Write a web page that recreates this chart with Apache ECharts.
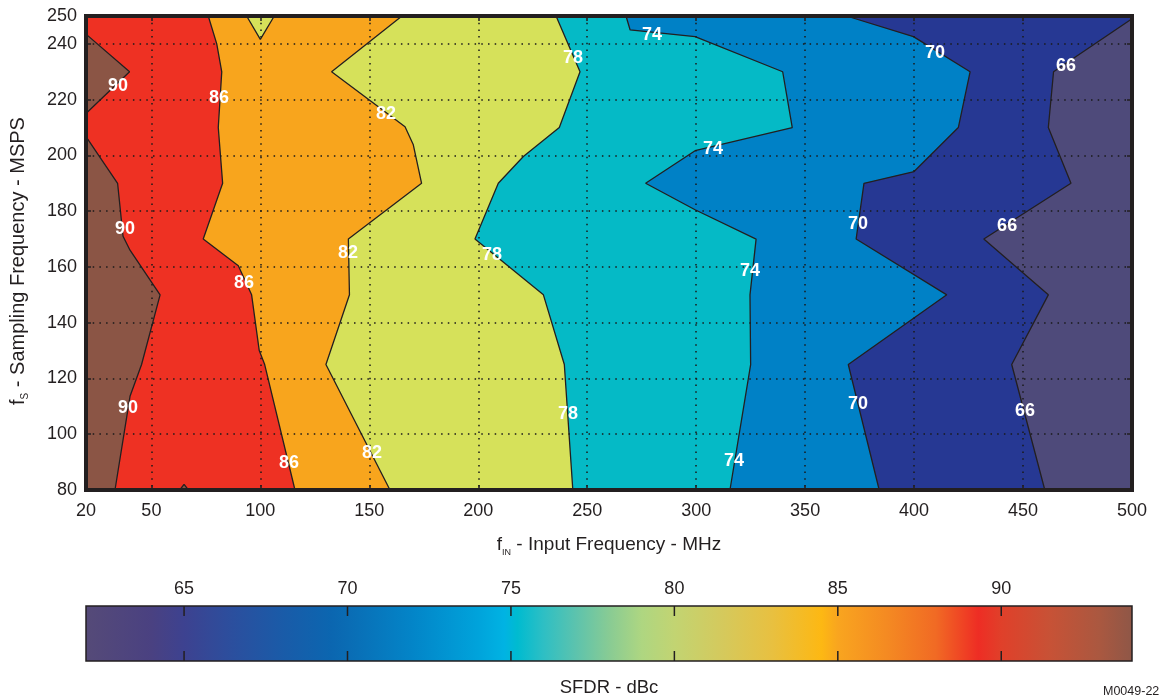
<!DOCTYPE html>
<html>
<head>
<meta charset="utf-8">
<script src="https://cdn.jsdelivr.net/npm/echarts@6/dist/echarts.min.js"></script>
<style>
  html, body { margin: 0; padding: 0; background: #fff; }
  #chart { width: 1165px; height: 698px; }
</style>
</head>
<body>
<div id="chart"></div>
<script>
// contour lines, [fIN MHz, fs MSPS], read top to bottom
var c66 = [[500, 249], [464, 230], [461.6, 210], [472, 190], [432, 170], [461.6, 150], [444.8, 125], [460, 80]];
var c70 = [[369, 250], [399.7, 242.6], [425.7, 230], [420.3, 210], [400, 194.2], [377, 190], [373.4, 170], [415, 150], [369.8, 125], [384, 80]];
var c74 = [[267.8, 250], [269.7, 245], [299.5, 242.6], [339.7, 230], [344.1, 210], [299.5, 201.7], [276.8, 190], [299.5, 180.5], [327.5, 170], [324.7, 150], [325, 125], [315.5, 80]];
var c78 = [[235.7, 250], [246.7, 230], [237.2, 210], [220.7, 199.6], [209.2, 190], [198.5, 170], [229.9, 150], [239.5, 125], [243.4, 80]];
var c82 = [[165, 250], [132.7, 230], [166.4, 210.3], [170.2, 203.8], [174, 190], [140.4, 170], [140.9, 150], [130.1, 125], [159.5, 80]];
var c86 = [[76.1, 250], [80, 240], [82.3, 230], [80.7, 210], [82.7, 190], [73.8, 170], [89.9, 160.4], [96, 150], [99.5, 130], [102, 125], [115.9, 80]];
var c82top = [[93.7, 250], [100, 241.6], [106.4, 250]];
var c90top = [[20, 243.5], [40, 230], [20, 215]];
var c90 = [[20, 206.7], [34.5, 190], [37, 171], [40.2, 166], [54, 150], [45.5, 125], [40.2, 113.6], [33.3, 80]];
var c90bump = [[63, 80], [65, 82], [67, 80]];

// contour labels [fIN, fs, text]
var contourLabels = [
  [34.7, 224.9, '90'], [81, 220.6, '86'], [157.7, 214.9, '82'], [243.5, 235, '78'],
  [279.7, 243.2, '74'], [409.6, 236.7, '70'], [469.7, 232.1, '66'], [307.7, 202.3, '74'],
  [37.9, 173.7, '90'], [140.2, 165, '82'], [206.3, 164.3, '78'], [92.5, 154.3, '86'],
  [374.3, 175.4, '70'], [442.7, 174.7, '66'], [324.7, 158.6, '74'], [39.3, 109.5, '90'],
  [241.2, 107.3, '78'], [374.3, 111, '70'], [450.9, 108.4, '66'], [113.2, 89.8, '86'],
  [151.3, 93.4, '82'], [317.4, 90.5, '74']
];

var xTicks = [20, 50, 100, 150, 200, 250, 300, 350, 400, 450, 500];
var yTicks = [80, 100, 120, 140, 160, 180, 200, 220, 240, 250];
var barTicks = [65, 70, 75, 80, 85, 90];

// colorbar stops [SFDR dBc, colour]
var barStops = [
  [62, '#554a78'], [64, '#4a4181'], [65, '#3d4290'], [66.5, '#2b4f9e'], [68, '#1a5ba8'],
  [69.5, '#0b66b0'], [70, '#0a6cb4'], [72, '#0385c8'], [74, '#00a3db'], [74.8, '#00b3e3'],
  [75.2, '#00bbd0'], [76, '#2ebfc4'], [77, '#5dc3ad'], [78, '#88cb94'], [79, '#aed681'],
  [80, '#c2d472'], [81.5, '#d5c95c'], [83, '#e8c040'], [84.5, '#fdb813'], [85, '#f9a51f'],
  [86.5, '#f48a22'], [88, '#f16a24'], [89.3, '#ee2d24'], [90, '#e0402a'], [91.5, '#c75236'],
  [93, '#aa5840'], [94, '#8f5747']
];
var barMin = 62, barMax = 94;

var XMIN = 20, XMAX = 500, YMIN = 80, YMAX = 250;
var ink = '#231f20';
var font = '"Liberation Sans", Arial, sans-serif';

function leftOf(c) {
  return [[XMIN, YMAX], [c[0][0], YMAX]].concat(c, [[c[c.length - 1][0], YMIN], [XMIN, YMIN]]);
}

var regionPolys = [
  [[XMIN, YMAX], [XMAX, YMAX], [XMAX, YMIN], [XMIN, YMIN]],
  leftOf(c66), leftOf(c70), leftOf(c74), leftOf(c78), leftOf(c82), leftOf(c86),
  c82top, c90.concat([[XMIN, YMIN]]), c90top, c90bump
];
var regionColors = ['#4e4a7a', '#263893', '#0081c6', '#05bac6', '#d6e15a', '#f8a51d', '#ee3123',
  '#d6e15a', '#8b5545', '#8b5545', '#8b5545'];
var contourLines = [c66, c70, c74, c78, c82, c86, c82top, c90, c90top, c90bump];

var myChart = echarts.init(document.getElementById('chart'));

var series = [];
series.push({
  type: 'custom',
  xAxisIndex: 0, yAxisIndex: 0,
  silent: true, z: 1,
  data: regionPolys.map(function (p, i) { return [p[0][0], p[0][1], i]; }),
  renderItem: function (params, api) {
    var i = params.dataIndex;
    var pts = regionPolys[i].map(function (p) { return api.coord(p); });
    return { type: 'polygon', z2: i, shape: { points: pts }, style: { fill: regionColors[i] } };
  }
});
contourLines.forEach(function (c) {
  series.push({
    type: 'line', xAxisIndex: 0, yAxisIndex: 0, data: c, showSymbol: false, symbol: 'none',
    silent: true, z: 2, lineStyle: { color: ink, width: 1.3 }
  });
});
series.push({
  type: 'custom', xAxisIndex: 0, yAxisIndex: 0, silent: true, z: 6,
  data: contourLabels,
  renderItem: function (params, api) {
    var pt = api.coord([api.value(0), api.value(1)]);
    return {
      type: 'text', x: pt[0], y: pt[1],
      style: { text: contourLabels[params.dataIndex][2], fill: '#fff', font: 'bold 18px ' + font, align: 'center', verticalAlign: 'middle' }
    };
  }
});
// colour bar with its inward ticks
series.push({
  type: 'custom', xAxisIndex: 2, yAxisIndex: 2, silent: true, z: 1,
  data: [[barMin, 0]],
  renderItem: function (params, api) {
    var a = api.coord([barMin, 1]);
    var b = api.coord([barMax, 0]);
    var stops = barStops.map(function (s) {
      return { offset: (s[0] - barMin) / (barMax - barMin), color: s[1] };
    });
    var children = [{
      type: 'rect', shape: { x: a[0], y: a[1], width: b[0] - a[0], height: b[1] - a[1] },
      style: { fill: new echarts.graphic.LinearGradient(0, 0, 1, 0, stops) }
    }];
    barTicks.forEach(function (t) {
      var top = api.coord([t, 1]);
      var bot = api.coord([t, 0]);
      children.push({ type: 'line', shape: { x1: top[0], y1: top[1], x2: top[0], y2: top[1] + 10 }, style: { stroke: ink, lineWidth: 1.5 } });
      children.push({ type: 'line', shape: { x1: bot[0], y1: bot[1], x2: bot[0], y2: bot[1] - 10 }, style: { stroke: ink, lineWidth: 1.5 } });
    });
    return { type: 'group', children: children };
  }
});

var tickLabel = { color: ink, fontSize: 18, fontFamily: font };
var dotted = { show: true, lineStyle: { color: '#1a1a1a', width: 1.5, type: [1.5, 5.2] } };
var tickStyle = { show: true, inside: true, length: 5, lineStyle: { color: ink, width: 1.5 } };

var option = {
  animation: false,
  grid: [
    { left: 86, right: 33, top: 16, bottom: 208, show: true, z: 8, backgroundColor: 'transparent', borderColor: ink, borderWidth: 4 },
    { left: 86, right: 33, top: 606, height: 56, show: true, z: 8, backgroundColor: 'transparent', borderColor: ink, borderWidth: 1.5 }
  ],
  xAxis: [
    {
      type: 'value', gridIndex: 0, min: XMIN, max: XMAX, z: 4,
      axisLine: { show: false },
      axisTick: Object.assign({ customValues: xTicks }, tickStyle),
      axisLabel: Object.assign({ customValues: xTicks, margin: 12 }, tickLabel),
      splitLine: dotted,
      name: '{m|f}{s|IN}{m| - Input Frequency - MHz}', nameLocation: 'middle', nameGap: 43,
      nameTextStyle: { rich: {
        m: { fontSize: 19, color: ink, fontFamily: font, lineHeight: 24 },
        s: { fontSize: 9, color: ink, fontFamily: font, verticalAlign: 'bottom', lineHeight: 15 }
      } }
    },
    {
      type: 'value', gridIndex: 0, min: XMIN, max: XMAX, position: 'top', z: 4,
      axisLine: { show: false }, axisLabel: { show: false }, splitLine: { show: false },
      axisTick: Object.assign({ customValues: xTicks }, tickStyle)
    },
    {
      type: 'value', gridIndex: 1, min: barMin, max: barMax, position: 'top', z: 4,
      axisLine: { show: false }, splitLine: { show: false }, axisTick: { show: false },
      axisLabel: Object.assign({ customValues: barTicks, margin: 8 }, tickLabel)
    },
    {
      type: 'value', gridIndex: 1, min: barMin, max: barMax, position: 'bottom', z: 4,
      axisLine: { show: false }, splitLine: { show: false }, axisLabel: { show: false }, axisTick: { show: false },
      name: 'SFDR - dBc', nameLocation: 'middle', nameGap: 17,
      nameTextStyle: { color: ink, fontSize: 18.5, fontFamily: font }
    }
  ],
  yAxis: [
    {
      type: 'value', gridIndex: 0, min: YMIN, max: YMAX, z: 4,
      axisLine: { show: false },
      axisTick: Object.assign({ customValues: yTicks }, tickStyle),
      axisLabel: Object.assign({ customValues: yTicks, margin: 9 }, tickLabel),
      splitLine: dotted,
      name: '{m|f}{s|S}{m| - Sampling Frequency - MSPS}', nameLocation: 'middle', nameGap: 56, nameRotate: 90,
      nameTextStyle: {
        padding: [0, 16, 0, 0],
        rich: {
          m: { fontSize: 20, color: ink, fontFamily: font, lineHeight: 24 },
          s: { fontSize: 10, color: ink, fontFamily: font, verticalAlign: 'bottom', lineHeight: 15 }
        }
      }
    },
    {
      type: 'value', gridIndex: 0, min: YMIN, max: YMAX, position: 'right', z: 4,
      axisLine: { show: false }, axisLabel: { show: false }, splitLine: { show: false },
      axisTick: Object.assign({ customValues: yTicks }, tickStyle)
    },
    { type: 'value', gridIndex: 1, min: 0, max: 1, show: false }
  ],
  graphic: [
    { type: 'text', left: 1103, top: 685, style: { text: 'M0049-22', fill: ink, font: '12.5px ' + font } }
  ],
  series: series
};

myChart.setOption(option);
</script>
</body>
</html>
